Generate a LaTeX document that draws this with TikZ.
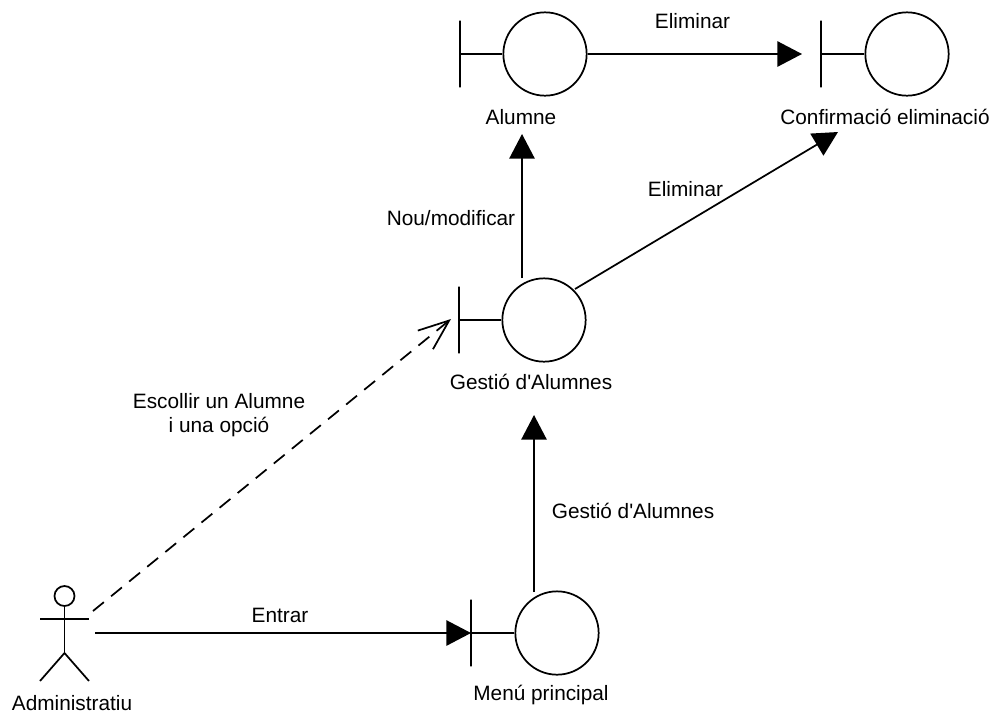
\documentclass[tikz,border=0pt]{standalone}
\usepackage{fontspec}
\newfontfamily\labelfont{Liberation Sans}
\usetikzlibrary{arrows.meta}

\begin{document}
\begin{tikzpicture}[x=0.75pt,y=-0.75pt,line width=1.3pt,
    ctrl/.style={shape=circle, draw, inner sep=0pt, minimum size=62.5pt},
    bar/.style={shape=rectangle, draw, inner sep=0pt, minimum width=0pt, minimum height=50pt},
    head/.style={shape=circle, draw, inner sep=0pt, minimum size=15pt},
    txt/.style={font=\labelfont\fontsize{15.6}{18}\selectfont, inner sep=0pt, align=center},
    msg/.style={-{Triangle[length=18.5pt,width=19pt]}},
    open/.style={dashed, dash pattern=on 10.5pt off 7pt, -{Straight Barb[length=23pt,width=18pt]}}]
    \useasboundingbox (0,0) rectangle (994,715);

    \node[ctrl] (alumne) at (545,54) {};
    \node[ctrl] (confirm) at (907,54) {};
    \node[ctrl] (gestio) at (544,320) {};
    \node[ctrl] (menu) at (557,633) {};
    \node[bar] (alumneBar) at (460,54) {};
    \node[bar] (confirmBar) at (821,54) {};
    \node[bar] (gestioBar) at (459,320) {};
    \node[bar] (menuBar) at (471,633) {};
    \draw (alumneBar.center) -- (alumne.west);
    \draw (confirmBar.center) -- (confirm.west);
    \draw (gestioBar.center) -- (gestio.west);
    \draw (menuBar.center) -- (menu.west);

    \node[txt] (alumneText) at (521,117) {Alumne};
    \node[txt] (confirmText) at (885,117) {Confirmació eliminació};
    \node[txt] (gestioText) at (531,382) {Gestió d'Alumnes};
    \node[txt] (menuText) at (541,695) {Menú principal};
    \node[txt] (actorText) at (72,703) {Administratiu};

    % actor
    \node[head] (actorHead) at (64.5,596) {};
    \coordinate (actorHip) at (64.5,653);
    \coordinate (armLeft) at (40,619);
    \coordinate (armRight) at (89,619);
    \coordinate (legLeft) at (40,681);
    \coordinate (legRight) at (89,681);
    \draw (actorHead.south) -- (actorHip);
    \draw (armLeft) -- (armRight);
    \draw (legLeft) -- (actorHip) -- (legRight);

    % messages
    \coordinate (enterStart) at (95,633);
    \coordinate (pickStart) at (93,611);
    \coordinate (pickEnd) at (451,319);
    \coordinate (elimTop) at (802,54);
    \coordinate (elimDiag) at (838,132);
    \coordinate (nouStart) at (522,278);
    \coordinate (nouEnd) at (522,134);
    \coordinate (menuStart) at (534,592);
    \coordinate (menuEnd) at (534,415);
    \coordinate (diagStart) at (575,289);
    \draw[msg] (enterStart) -- (menuBar.center);
    \draw[open] (pickStart) -- (pickEnd);
    \draw[msg] (alumne.east) -- (elimTop);
    \draw[msg] (diagStart) -- (elimDiag);
    \draw[msg] (nouStart) -- (nouEnd);
    \draw[msg] (menuStart) -- (menuEnd);

    \node[txt] (entrarText) at (280,615) {Entrar};
    \node[txt] (pickText) at (219,415) {Escollir un Alumne\\i una opció};
    \node[txt] (menuMsg) at (633,511) {Gestió d'Alumnes};
    \node[txt] (nouText) at (451,218) {Nou/modificar};
    \node[txt] (elimDiagText) at (685.5,189) {Eliminar};
    \node[txt] (elimTopText) at (692.5,21) {Eliminar};
\end{tikzpicture}
\end{document}
